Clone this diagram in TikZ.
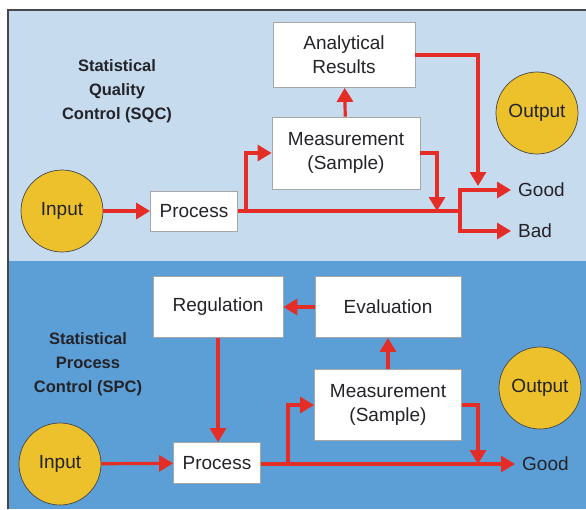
\documentclass[tikz,border=0pt]{standalone}
\usepackage{fontspec}
\setmainfont{Liberation Sans}
\usetikzlibrary{arrows.meta, positioning}
\definecolor{sqcblue}{RGB}{199,219,239}
\definecolor{spcblue}{RGB}{92,159,214}
\definecolor{discgold}{RGB}{236,193,44}
\definecolor{flowred}{RGB}{228,45,38}
\definecolor{rimgray}{RGB}{70,70,75}
\definecolor{inkgray}{RGB}{35,35,40}

\begin{document}
\begin{tikzpicture}[x=1pt, y=-1pt, text=inkgray,
  box/.style={draw=gray!70, fill=white, line width=0.8pt, align=center, inner sep=0pt,
    font=\fontsize{19}{24}\selectfont},
  disc/.style={circle, draw=rimgray, fill=discgold, line width=0.7pt, minimum size=82pt,
    inner sep=0pt, font=\fontsize{19}{24}\selectfont},
  tag/.style={anchor=west, inner sep=0pt, font=\fontsize{19}{24}\selectfont},
  heading/.style={align=center, font=\bfseries\fontsize{16.5}{24}\selectfont},
  wire/.style={flowred, line width=3.2pt},
  flow/.style={wire, -{Triangle[length=14pt,width=16pt]}},
  gap/.style={shorten >=7pt}]

\useasboundingbox (0,0) rectangle (586,509);
\fill[sqcblue] (8,10) rectangle (586,261);
\fill[spcblue] (8,261) rectangle (586,509);
\draw[rimgray, line width=2pt] (8,509) -- (8,10) -- (586,10);

% statistical quality control
\node[heading] (sqc) at (117,91) {Statistical\\Quality\\Control (SQC)};
\node[disc] (in1) at (62,211) {Input};
\node[disc] (out1) at (537,113) {Output};
\node[box, minimum width=87pt, minimum height=40pt] (proc1) at (194,211) {Process};
\node[box, minimum width=148pt, minimum height=72pt] (meas1) at (346,153) {Measurement\\(Sample)};
\node[box, minimum width=142pt, minimum height=65pt] (res1) at (344,55) {Analytical\\Results};
\node[tag] (good1) at (518,190) {Good};
\node[tag] (bad1) at (518,231) {Bad};

\coordinate (branch1) at (246,211);
\coordinate (split1) at (460,211);
\coordinate (drop1) at (437,211);
\coordinate (drop2) at (478,186);

\draw[flow] (in1) -- (proc1);
\draw[wire] (proc1.east) -- (split1);
\draw[flow] (branch1) |- (meas1.west);
\draw[flow] (meas1) -- (res1);
\draw[flow] (meas1.east) -| (drop1);
\draw[flow] (res1.east) -| (drop2);
\draw[flow, gap] (split1) |- (good1.west);
\draw[flow, gap] (split1) |- (bad1.west);

% statistical process control
\node[heading] (spc) at (88,364) {Statistical\\Process\\Control (SPC)};
\node[disc] (in2) at (60,464) {Input};
\node[disc] (out2) at (540,388) {Output};
\node[box, minimum width=87pt, minimum height=41pt] (proc2) at (217,463) {Process};
\node[box, minimum width=130pt, minimum height=61pt] (reg) at (218,307) {Regulation};
\node[box, minimum width=146pt, minimum height=61pt] (eval) at (388,307) {Evaluation};
\node[box, minimum width=147pt, minimum height=71pt] (meas2) at (388,405) {Measurement\\(Sample)};
\node[tag] (good2) at (522,464) {Good};

\coordinate (branch2) at (288,464);
\coordinate (drop3) at (478,464);

\draw[flow] (in2) -- (proc2);
\draw[flow] (reg.south) -- (reg.south |- proc2.north);
\draw[flow] (eval) -- (reg);
\draw[flow] (meas2) -- (eval);
\draw[flow, gap] (proc2.east |- good2.west) -- (good2.west);
\draw[flow] (branch2) |- (meas2.west);
\draw[flow] (meas2.east) -| (drop3);

\end{tikzpicture}
\end{document}
